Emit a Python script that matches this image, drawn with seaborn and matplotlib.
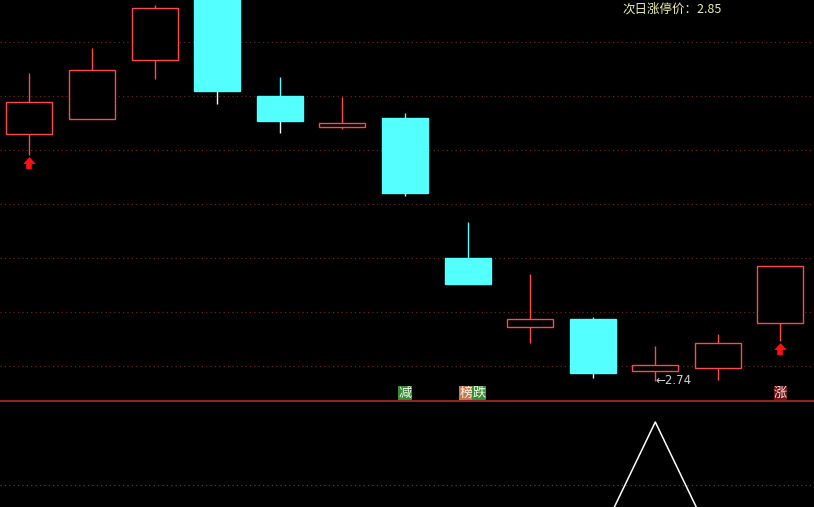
import numpy as np
import pandas as pd
import matplotlib
matplotlib.use("Agg")
import matplotlib.pyplot as plt
import seaborn as sns

# daily candles
opens  = [3.234, 3.264, 3.382, 3.542, 3.310, 3.248, 3.266, 2.986, 2.848, 2.864, 2.760, 2.766, 2.856]
closes = [3.298, 3.362, 3.486, 3.320, 3.260, 3.256, 3.116, 2.934, 2.864, 2.756, 2.772, 2.816, 2.970]
highs  = [3.356, 3.406, 3.492, 3.552, 3.348, 3.308, 3.276, 3.058, 2.954, 2.868, 2.810, 2.834, 2.970]
lows   = [3.192, 3.264, 3.344, 3.294, 3.236, 3.244, 3.110, 2.934, 2.816, 2.746, 2.740, 2.742, 2.820]

# lower indicator line
indicator = [0, 0, 0, 0, 0, 0, 0, 0, 0, 0, 100, 0, 0]

# signal marks
arrow_days = [0, 12]
tags = [(6.0, "减", "#3a8a3a", "#e8ffe0"),
        (6.975, "榜", "#c07a50", "#fff0e0"),
        (7.183, "跌", "#3a8a3a", "#e8ffe0"),
        (12.0, "涨", "#6a1818", "#ffd8d8")]
low_label = "←2.74"
title_text = "次日涨停价：2.85"

sns.set_style("dark")
plt.rcParams['font.family'] = ['Noto Sans CJK SC', 'DejaVu Sans']

RED = "#ff4a4a"
CYAN = "#54ffff"
GRID = "#6a2424"

fig = plt.figure(figsize=(8.14, 5.07), dpi=100, facecolor="black")
ax = fig.add_axes([0, 106 / 507, 1, 401 / 507])
ax2 = fig.add_axes([0, 0, 1, 105 / 507])
for a in (ax, ax2):
    a.set_facecolor("black")
    a.set_xticks([])
    a.set_yticks([])
    for s in a.spines.values():
        s.set_visible(False)

ax.set_xlim(-0.471, 12.536)
ax.set_ylim(2.700, 3.502)
ax2.set_xlim(-0.471, 12.536)
ax2.set_ylim(34.6, 115.4)

# dotted grid, every 54 px
for i in range(7):
    ax.axhline(3.502 - (42 + 54 * i) * 0.002, color=GRID, lw=0.9, ls=(0, (1, 2.5)), zorder=0)
ax2.axhline(51.5, color="#5a3a3a", lw=0.9, ls=(0, (1, 2.5)), zorder=0)

# separator line
ax.spines["bottom"].set_visible(True)
ax.spines["bottom"].set_color("#b02a2a")
ax.spines["bottom"].set_linewidth(1.2)

x = np.arange(len(opens))
o = np.array(opens); c = np.array(closes)
h = np.array(highs); l = np.array(lows)
up = c >= o
top = np.maximum(o, c)
bot = np.minimum(o, c)

# wicks
ax.vlines(x[up], top[up], h[up], color=RED, lw=1, zorder=1)
ax.vlines(x[up], l[up], bot[up], color=RED, lw=1, zorder=1)
ax.vlines(x[~up], top[~up], h[~up], color=CYAN, lw=1, zorder=1)
ax.vlines(x[~up], l[~up], bot[~up], color="#d8ffff", lw=1, zorder=1)

# bodies
ax.bar(x[up], (top - bot)[up], bottom=bot[up], width=0.735,
       facecolor="black", edgecolor=RED, linewidth=1, zorder=2)
ax.bar(x[~up], (top - bot)[~up], bottom=bot[~up], width=0.735,
       facecolor=CYAN, edgecolor=CYAN, linewidth=1, zorder=2)

# red up arrows under signal candles: flat head + tail
head = [(-1, -0.55), (1, -0.55), (0, 0.55), (-1, -0.55)]
for d in arrow_days:
    ax.vlines(d, l[d] - 0.027, l[d] - 0.013, color="#ff1010", lw=4, zorder=3)
    ax.plot([d], [l[d] - 0.010], marker=head, markersize=9, color="#ff1010",
            markeredgewidth=0, zorder=3)

# tags above separator
for tx, t, bg, fg in tags:
    ax.text(tx, 2.716, t, ha="center", va="center", fontsize=9.5, color=fg,
            bbox=dict(boxstyle="square,pad=0.02", facecolor=bg, edgecolor="none"))

# lowest price label
ax.text(10, 2.740, low_label, ha="left", va="center", fontsize=8.5, color="#d0d0d0",
        family=['DejaVu Sans'])

fig.text(622 / 814, 1 - 9.5 / 507, title_text, ha="left", va="center",
         fontsize=9, color="#f0f0a8")

# indicator panel
df = pd.DataFrame({"day": x, "value": indicator})
sns.lineplot(data=df, x="day", y="value", ax=ax2, color="white", lw=1.1)
ax2.set_xlabel("")
ax2.set_ylabel("")
ax2.set_xticks([])
ax2.set_yticks([])

fig.savefig("out.png", dpi=100, facecolor="black")
